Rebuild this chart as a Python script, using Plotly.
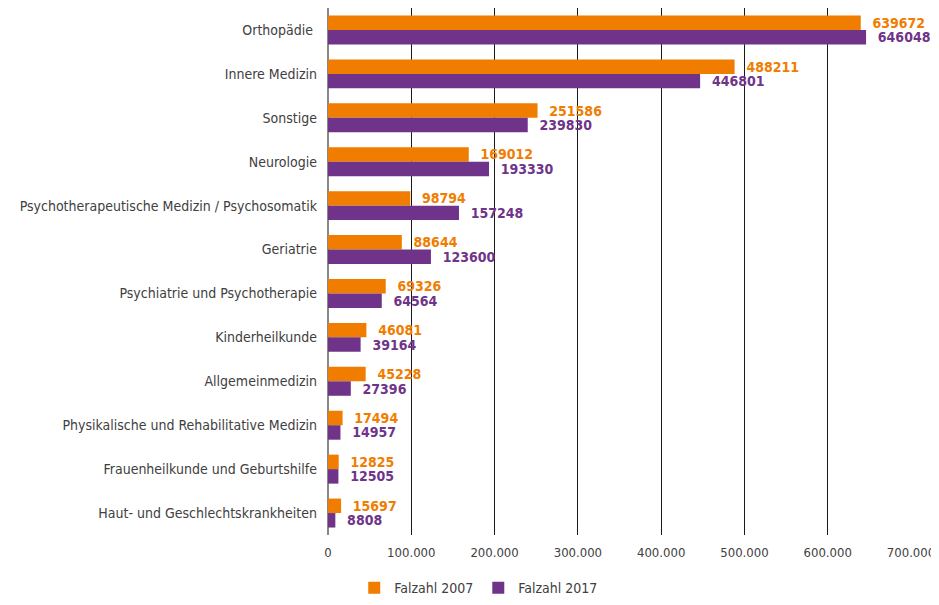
import plotly.graph_objects as go

categories = [
    "Orthopädie ", "Innere Medizin", "Sonstige", "Neurologie",
    "Psychotherapeutische Medizin / Psychosomatik", "Geriatrie",
    "Psychiatrie und Psychotherapie", "Kinderheilkunde", "Allgemeinmedizin",
    "Physikalische und Rehabilitative Medizin", "Frauenheilkunde und Geburtshilfe",
    "Haut- und Geschlechtskrankheiten",
]
fall_2007 = [639672, 488211, 251586, 169012, 98794, 88644, 69326, 46081, 45228, 17494, 12825, 15697]
fall_2017 = [646048, 446801, 239830, 193330, 157248, 123600, 64564, 39164, 27396, 14957, 12505, 8808]
series_names = ["Falzahl 2007", "Falzahl 2017"]
tick_vals = [0, 100000, 200000, 300000, 400000, 500000, 600000, 700000]

ORANGE = "#F07D00"
PURPLE = "#6F3489"
FONT = "Liberation Sans Narrow, Arial Narrow, DejaVu Sans Condensed, sans-serif"

fig = go.Figure()
for name, vals, col in [(series_names[0], fall_2007, ORANGE), (series_names[1], fall_2017, PURPLE)]:
    fig.add_trace(go.Bar(
        y=categories, x=vals, name=name, orientation="h",
        marker=dict(color=col, line=dict(width=0)),
        text=[str(v) for v in vals], texttemplate="  %{text}", textposition="outside",
        textfont=dict(family=FONT, size=14, color=col, weight="bold"),
        cliponaxis=False, constraintext="none",
    ))

fig.update_layout(
    width=931, height=589,
    margin=dict(l=320, r=28, t=0, b=62),
    paper_bgcolor="white", plot_bgcolor="white",
    barmode="group", bargap=0.34, bargroupgap=0,
    separators=",.",
    font=dict(family=FONT, size=14, color="#404040"),
    showlegend=True,
    legend=dict(orientation="h", x=0.045, xanchor="left",
                yref="container", y=0.015, yanchor="middle",
                font=dict(family=FONT, size=14, color="#404040"),
                itemwidth=30, tracegroupgap=0),
    xaxis=dict(range=[0, 700000], tickvals=tick_vals, tickformat=",d",
               showgrid=True, gridcolor="#1a1a1a", gridwidth=1,
               zeroline=True, zerolinecolor="#888888", zerolinewidth=1.5,
               showline=False, ticks="", ticklabelstandoff=8, automargin=False,
               ticklabeloverflow="allow",
               tickfont=dict(family=FONT, size=13, color="#404040")),
    yaxis=dict(autorange="reversed", showgrid=False, ticks="", showline=False,
               ticklabelstandoff=10, automargin=False,
               tickfont=dict(family=FONT, size=14, color="#404040")),
)

fig.write_html("out.html")
